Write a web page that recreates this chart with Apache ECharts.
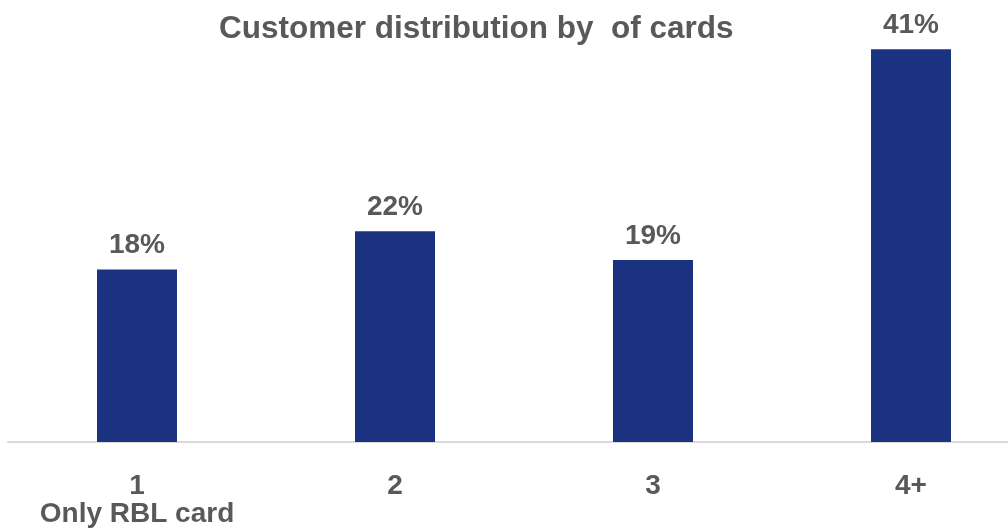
<!DOCTYPE html>
<html>
<head>
<meta charset="utf-8">
<script src="https://cdn.jsdelivr.net/npm/echarts@6/dist/echarts.min.js"></script>
<style>
  html, body { margin: 0; padding: 0; background: #ffffff; }
  #chart { width: 1008px; height: 529px; }
</style>
</head>
<body>
<div id="chart"></div>
<script>
// Share of customers by number of cards held
const categories = ['1\nOnly RBL card', '2', '3', '4+'];
const shares = [18, 22, 19, 41];

const textColor = '#595959';
const font = '"Liberation Sans", Arial, sans-serif';

const chart = echarts.init(document.getElementById('chart'));
chart.setOption({
  animation: false,
  backgroundColor: '#ffffff',
  title: {
    text: 'Customer distribution by  of cards',
    left: 214,
    top: 8,
    textStyle: {
      color: textColor,
      fontFamily: font,
      fontSize: 31.5,
      fontWeight: 'bold'
    }
  },
  grid: {
    left: 8,
    width: 1032,
    top: 11,
    bottom: 87,
    containLabel: false,
    outerBoundsMode: 'none'
  },
  xAxis: {
    type: 'category',
    data: categories,
    axisLine: { show: true, lineStyle: { color: '#d9d9d9', width: 2 } },
    axisTick: { show: false },
    axisLabel: {
      color: textColor,
      fontFamily: font,
      fontSize: 28,
      fontWeight: 'bold',
      lineHeight: 28,
      margin: 30,
      interval: 0
    }
  },
  yAxis: {
    type: 'value',
    min: 0,
    max: 45,
    show: false,
    splitLine: { show: false }
  },
  series: [{
    type: 'bar',
    data: shares,
    barWidth: 80,
    itemStyle: { color: '#1b3281' },
    label: {
      show: true,
      position: 'top',
      distance: 10,
      formatter: '{c}%',
      color: textColor,
      fontFamily: font,
      fontSize: 28,
      fontWeight: 'bold'
    }
  }]
});
</script>
</body>
</html>
